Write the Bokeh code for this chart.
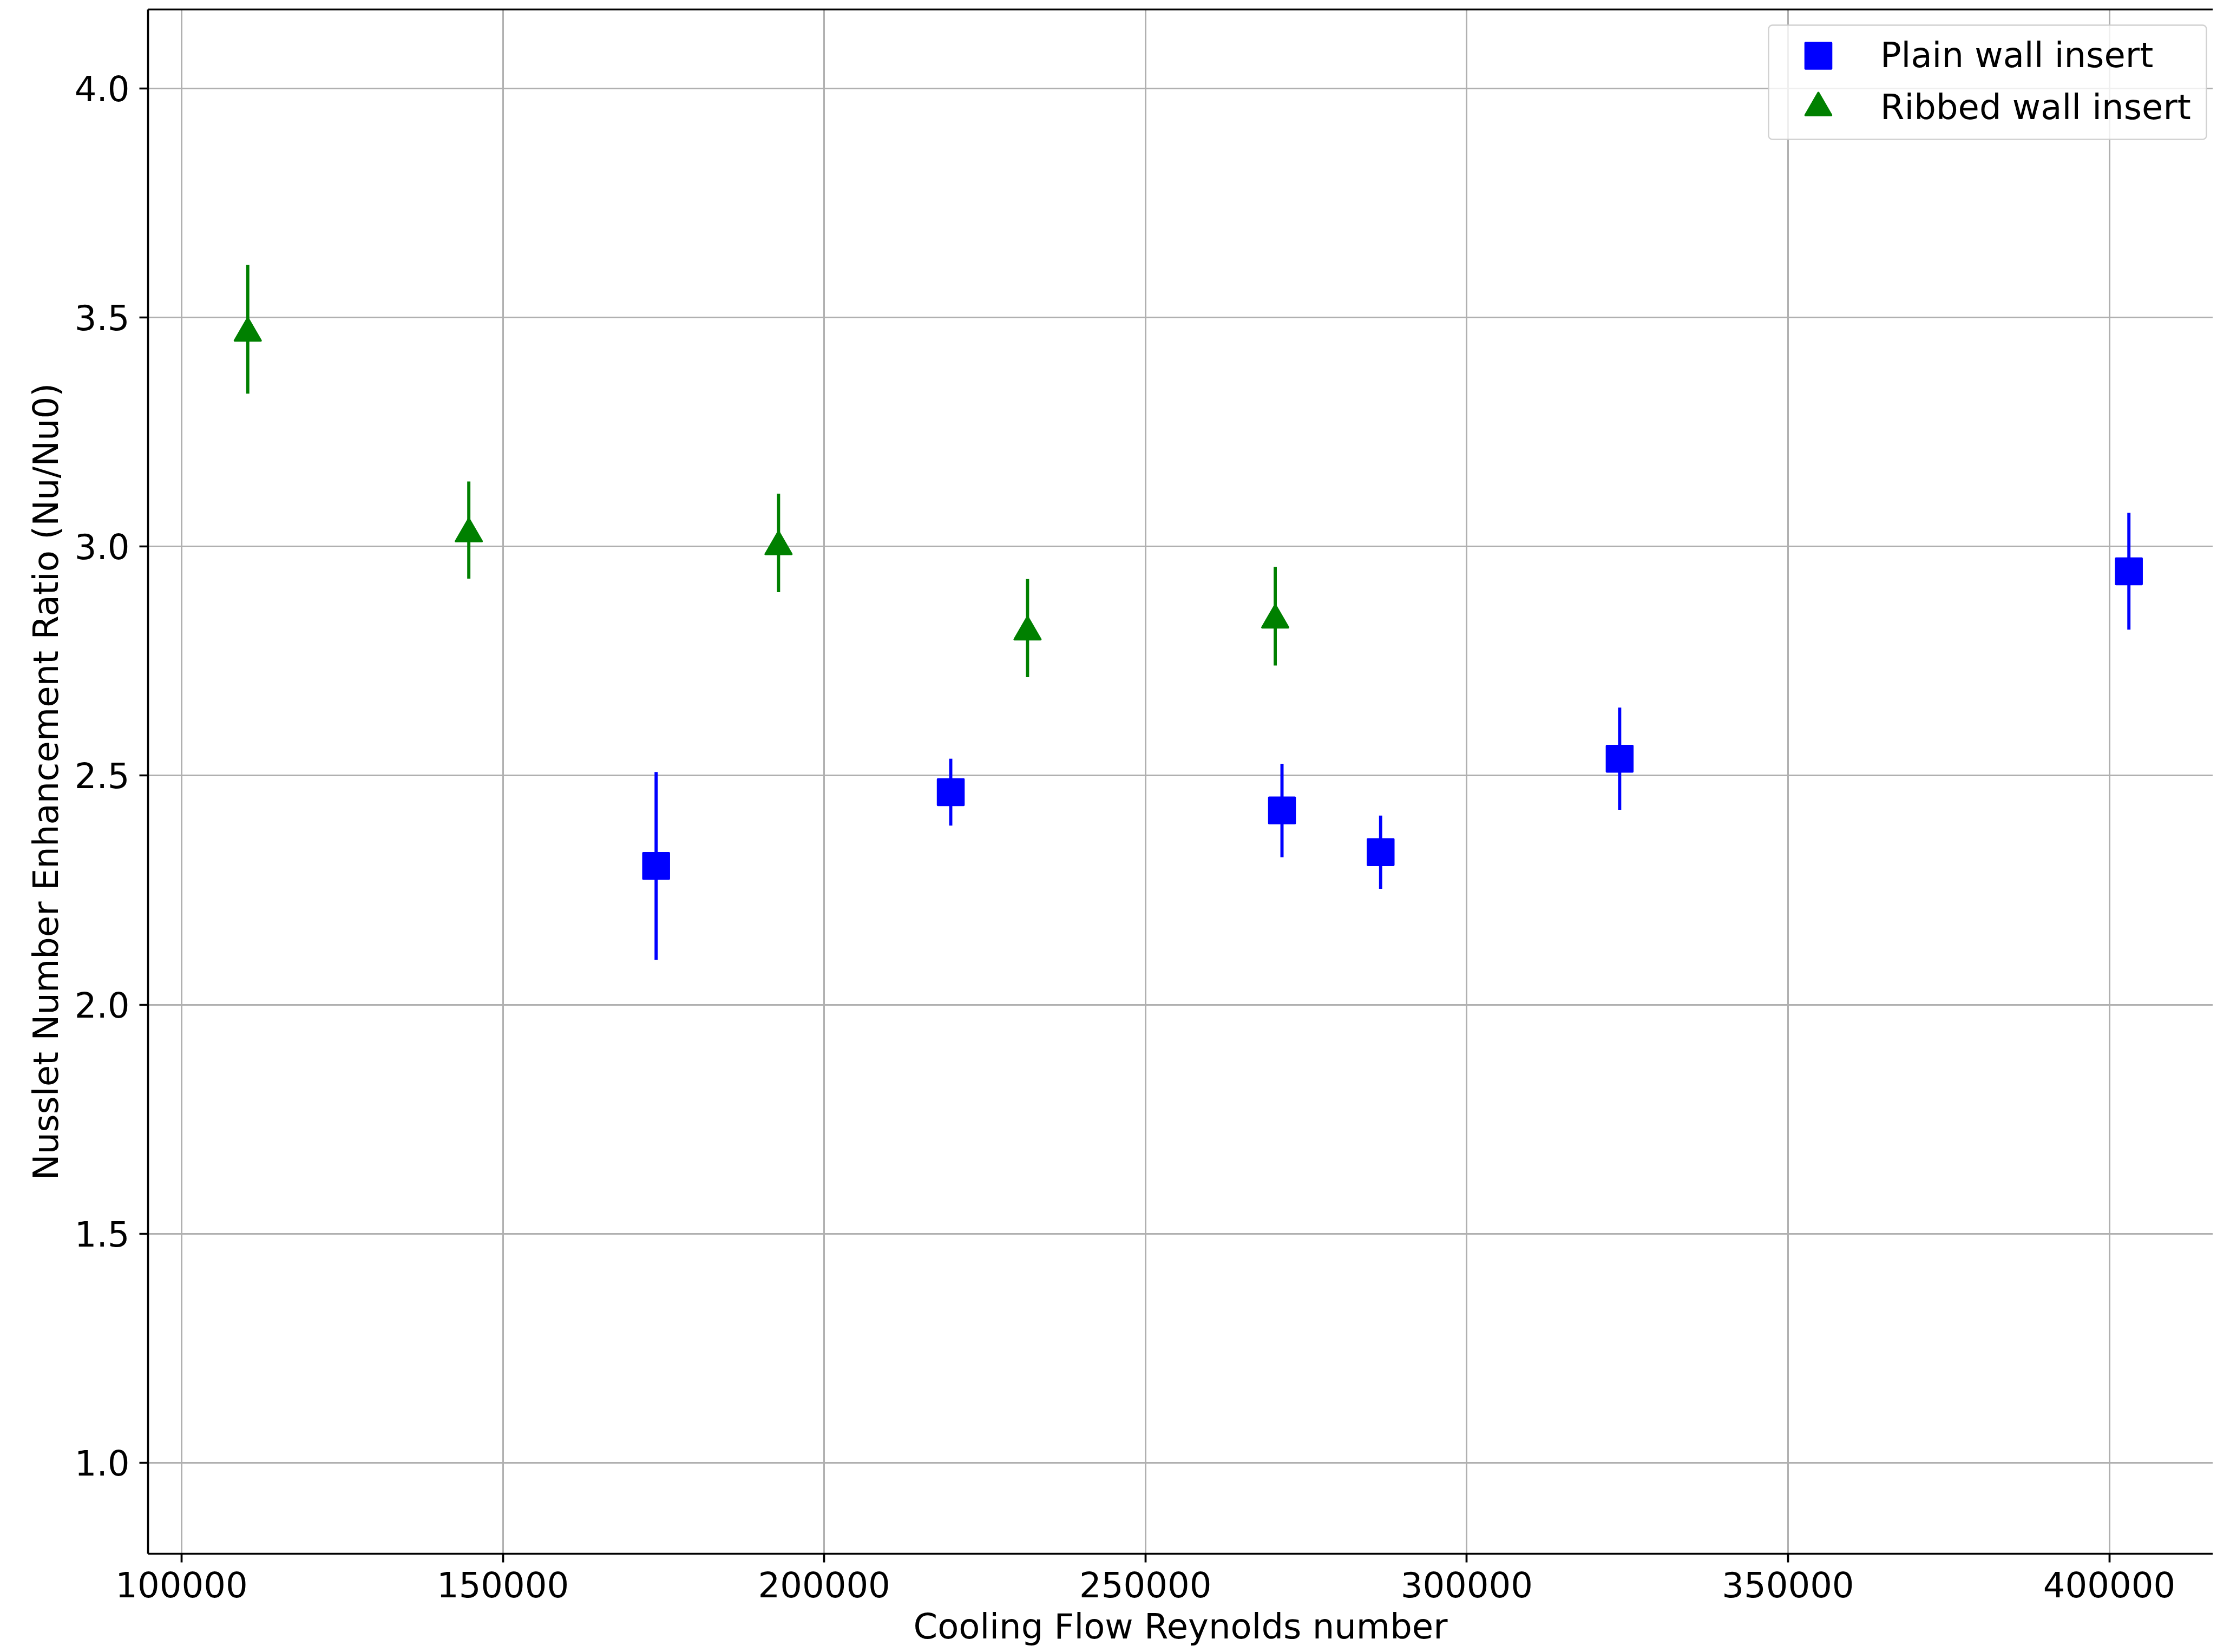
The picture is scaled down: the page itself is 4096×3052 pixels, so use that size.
from bokeh.plotting import figure
from bokeh.models import (Range1d, FixedTicker, LinearAxis, Legend, LegendItem,
                          BoxAnnotation)
from bokeh.embed import file_html
from bokeh.resources import INLINE

# ---------------- data ----------------
plain_re = [173850, 219700, 271250, 286600, 323800, 403050]
plain_nu = [2.303, 2.464, 2.424, 2.333, 2.537, 2.946]
plain_err = [0.205, 0.073, 0.102, 0.080, 0.1115, 0.1275]

ribbed_re = [110300, 144700, 192900, 231650, 270200]
ribbed_nu = [3.474, 3.036, 3.008, 2.822, 2.848]
ribbed_err = [0.1405, 0.106, 0.1075, 0.107, 0.1075]

x_ticks = [100000, 150000, 200000, 250000, 300000, 350000, 400000]
x_tick_labels = ["100000", "150000", "200000", "250000", "300000", "350000", "400000"]
y_ticks = [1.0, 1.5, 2.0, 2.5, 3.0, 3.5, 4.0]
y_tick_labels = ["1.0", "1.5", "2.0", "2.5", "3.0", "3.5", "4.0"]

x_label = "Cooling Flow Reynolds number"
y_label = "Nusslet Number Enhancement Ratio (Nu/Nu0)"
series_names = ["Plain wall insert", "Ribbed wall insert"]

# ---------------- layout / style ----------------
FONT = "DejaVu Sans"
FS = "64px"
W, H = 4088, 3044
BL, BT, BB = 273, 17, 172         # borders around the frame
FW, FH = W - BL, H - BT - BB      # frame size
X0, X1 = 94779, 416130
Y0, Y1 = 0.802, 4.172
TRI_SHIFT = 0.0083  # matplotlib centres '^' at mid-height; bokeh at centroid

p = figure(width=W, height=H, output_backend="svg", toolbar_location=None,
           x_range=Range1d(X0, X1), y_range=Range1d(Y0, Y1),
           min_border_left=BL, min_border_right=0,
           min_border_top=BT, min_border_bottom=BB)
p.extra_y_ranges = {"tri": Range1d(Y0 + TRI_SHIFT, Y1 + TRI_SHIFT)}
p.outline_line_color = None
p.background_fill_color = "white"
p.border_fill_color = "white"

xt = FixedTicker(ticks=x_ticks)
yt = FixedTicker(ticks=y_ticks)
p.xaxis.ticker = xt
p.yaxis.ticker = yt
p.xgrid.ticker = xt
p.ygrid.ticker = yt
p.xaxis.major_label_overrides = dict(zip(x_ticks, x_tick_labels))
p.yaxis.major_label_overrides = dict(zip(y_ticks, y_tick_labels))
p.xaxis.axis_label = x_label
p.yaxis.axis_label = y_label

for ax in (p.xaxis[0], p.yaxis[0]):
    ax.axis_line_color = "black"
    ax.axis_line_width = 3.7
    ax.major_tick_line_color = "black"
    ax.major_tick_line_width = 3.7
    ax.major_tick_out = 16
    ax.major_tick_in = 0
    ax.minor_tick_line_color = None
    ax.major_label_text_font = FONT
    ax.major_label_text_font_size = FS
    ax.major_label_text_color = "black"
    ax.axis_label_text_font = FONT
    ax.axis_label_text_font_size = FS
    ax.axis_label_text_font_style = "normal"
    ax.axis_label_text_color = "black"

p.xaxis.major_label_standoff = 17
p.xaxis.axis_label_standoff = 14
p.yaxis.major_label_standoff = 18
p.yaxis.axis_label_standoff = 13

top = LinearAxis(ticker=FixedTicker(ticks=[]), axis_line_color="black", axis_line_width=3.7,
                 major_tick_out=0, major_tick_in=0, minor_tick_out=0, minor_tick_in=0,
                 major_label_standoff=0)
p.add_layout(top, "above")

for g in (p.xgrid[0], p.ygrid[0]):
    g.grid_line_color = "#b0b0b0"
    g.grid_line_width = 3

# ---------------- glyphs ----------------
BLUE = "#0000ff"
GREEN = "#008000"

p.segment(x0=plain_re, x1=plain_re,
          y0=[v - e for v, e in zip(plain_nu, plain_err)],
          y1=[v + e for v, e in zip(plain_nu, plain_err)],
          line_color=BLUE, line_width=5.9)
sq = p.scatter(plain_re, plain_nu, marker="square", size=47.5,
               fill_color=BLUE, line_color=BLUE, line_width=4, line_join="round")

p.segment(x0=ribbed_re, x1=ribbed_re,
          y0=[v - e for v, e in zip(ribbed_nu, ribbed_err)],
          y1=[v + e for v, e in zip(ribbed_nu, ribbed_err)],
          line_color=GREEN, line_width=5.9)
tri = p.scatter(ribbed_re, ribbed_nu, marker="triangle", size=48, y_range_name="tri",
                fill_color=GREEN, line_color=GREEN, line_width=4, line_join="round")

# ---------------- legend ----------------
LG_L, LG_R, LG_T, LG_B = 2994, 3803, 31, 242   # box edges (from frame left / frame top)
p.add_layout(BoxAnnotation(left=LG_L, right=LG_R, top=FH - LG_T, bottom=FH - LG_B,
                           left_units="screen", right_units="screen",
                           top_units="screen", bottom_units="screen",
                           fill_color="white", fill_alpha=0.8,
                           line_color="#cccccc", line_alpha=0.9, line_width=2.5,
                           border_radius=7))

GW, GH = 140, 119
MARK_X = 3086                 # glyph centre, from frame left
item_centres = [87, 183]      # from frame top
for name, rend, cy in zip(series_names, [sq, tri], item_centres):
    lg = Legend(items=[LegendItem(label=name, renderers=[rend])],
                location=(MARK_X - GW // 2, FH - cy - GH / 2),
                margin=0, padding=0, spacing=0,
                glyph_width=GW, glyph_height=GH, label_standoff=45,
                label_text_font=FONT, label_text_font_size=FS, label_text_color="black",
                border_line_color=None, background_fill_alpha=0)
    p.add_layout(lg)

open("out.html", "w").write(file_html(p, INLINE))
